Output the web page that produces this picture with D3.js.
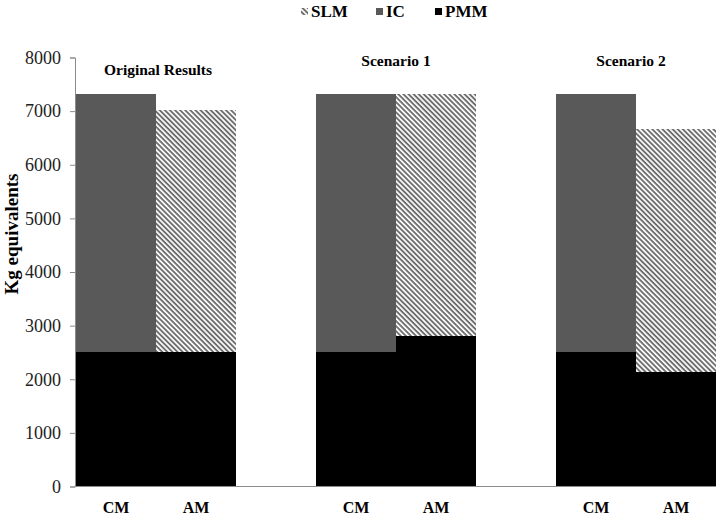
<!DOCTYPE html>
<html>
<head>
<meta charset="utf-8">
<script src="https://cdn.jsdelivr.net/npm/d3@7/dist/d3.min.js"></script>
<style>
  html, body { margin: 0; padding: 0; background: #fff; }
  svg { display: block; }
</style>
</head>
<body>
<svg id="chart" width="719" height="522"></svg>
<script>
// Slots along the x axis; empty slots separate the three groups
const slots = ["o-CM", "o-AM", "gap1", "s1-CM", "s1-AM", "gap2", "s2-CM", "s2-AM"];
const slotLabels = ["CM", "AM", "", "CM", "AM", "", "CM", "AM"];
const groupTitles = ["Original Results", "Scenario 1", "Scenario 2"];
const groupSlots = [["o-CM", "o-AM"], ["s1-CM", "s1-AM"], ["s2-CM", "s2-AM"]];

// Stacked components (kg equivalents) per bar
const barIds = ["o-CM", "o-AM", "s1-CM", "s1-AM", "s2-CM", "s2-AM"];
const pmmValues = [2500, 2500, 2500, 2800, 2500, 2130];
const icValues  = [4820, 0, 4820, 0, 4820, 0];
const slmValues = [0, 4520, 0, 4520, 0, 4530];

const seriesNames = ["SLM", "IC", "PMM"];
const yTicks = [0, 1000, 2000, 3000, 4000, 5000, 6000, 7000, 8000];

const FONT = "Liberation Serif";
const svg = d3.select("#chart");

// Diagonal hatch used for SLM
const defs = svg.append("defs");
const pat = defs.append("pattern")
  .attr("id", "hatch")
  .attr("patternUnits", "userSpaceOnUse")
  .attr("width", 3.6).attr("height", 3.6)
  .attr("patternTransform", "rotate(45)");
pat.append("rect").attr("width", 3.6).attr("height", 3.6).attr("fill", "#ffffff");
pat.append("rect").attr("width", 3.6).attr("height", 1.9).attr("fill", "#6e6e6e");

const fills = { PMM: "#000000", IC: "#595959", SLM: "url(#hatch)" };

const margin = { left: 75, right: 3, top: 57.5, bottom: 35.5 };
const W = 719, H = 522;

const x = d3.scaleBand().domain(slots).range([76, 716]).padding(0);
const y = d3.scaleLinear().domain([0, 8000]).range([H - margin.bottom, margin.top]);

// Build stacked rows
const rows = barIds.map((id, i) => ({ id, PMM: pmmValues[i], IC: icValues[i], SLM: slmValues[i] }));
const stack = d3.stack().keys(["PMM", "IC", "SLM"]);
const layers = stack(rows);

svg.append("g").attr("shape-rendering", "crispEdges").selectAll("g")
  .data(layers)
  .join("g")
  .attr("fill", d => fills[d.key])
  .selectAll("rect")
  .data(d => d.filter(s => s[1] > s[0]))
  .join("rect")
  .attr("x", d => x(d.data.id))
  .attr("width", x.bandwidth())
  .attr("y", d => y(d[1]))
  .attr("height", d => y(d[0]) - y(d[1]));

// Y axis
const yAxis = d3.axisLeft(y).tickValues(yTicks).tickSize(5).tickPadding(9).tickFormat(d3.format("d"));
const gy = svg.append("g").attr("transform", `translate(${margin.left},0)`).call(yAxis);
gy.select(".domain").attr("stroke", "#8c8c8c");
gy.selectAll(".tick line").attr("stroke", "#8c8c8c");
gy.selectAll(".tick text")
  .style("font-family", FONT)
  .style("font-size", "18px")
  .attr("fill", "#222");

// X baseline
svg.append("line")
  .attr("x1", margin.left).attr("x2", W - margin.right)
  .attr("y1", y(0)).attr("y2", y(0))
  .attr("stroke", "#8c8c8c");

// X labels
svg.append("g").selectAll("text")
  .data(slots.map((s, i) => ({ s, label: slotLabels[i] })).filter(d => d.label))
  .join("text")
  .attr("x", d => x(d.s) + x.bandwidth() / 2)
  .attr("y", 513)
  .attr("text-anchor", "middle")
  .style("font-family", FONT)
  .style("font-weight", "bold")
  .style("font-size", "16px")
  .text(d => d.label);

// Group titles
const titleY = [75, 66, 66];
const titleDx = [2, 0, -5];
svg.append("g").selectAll("text")
  .data(groupTitles)
  .join("text")
  .attr("x", (d, i) => (x(groupSlots[i][0]) + x(groupSlots[i][1]) + x.bandwidth()) / 2 + titleDx[i])
  .attr("y", (d, i) => titleY[i])
  .attr("text-anchor", "middle")
  .style("font-family", FONT)
  .style("font-weight", "bold")
  .style("font-size", "15.5px")
  .text(d => d);

// Y axis title
svg.append("text")
  .attr("transform", "translate(18,234) rotate(-90)")
  .attr("text-anchor", "middle")
  .style("font-family", FONT)
  .style("font-weight", "bold")
  .style("font-size", "19px")
  .text("Kg equivalents");

// Legend
const legendX = [301, 376, 435];
const lg = svg.append("g").selectAll("g")
  .data(seriesNames)
  .join("g")
  .attr("transform", (d, i) => `translate(${legendX[i]},0)`);
lg.append("rect")
  .attr("x", 0).attr("y", 8)
  .attr("width", 7).attr("height", 7)
  .attr("fill", d => fills[d]);
lg.append("text")
  .attr("x", 10).attr("y", 17)
  .style("font-family", FONT)
  .style("font-weight", "bold")
  .style("font-size", "17px")
  .text(d => d);
</script>
</body>
</html>
